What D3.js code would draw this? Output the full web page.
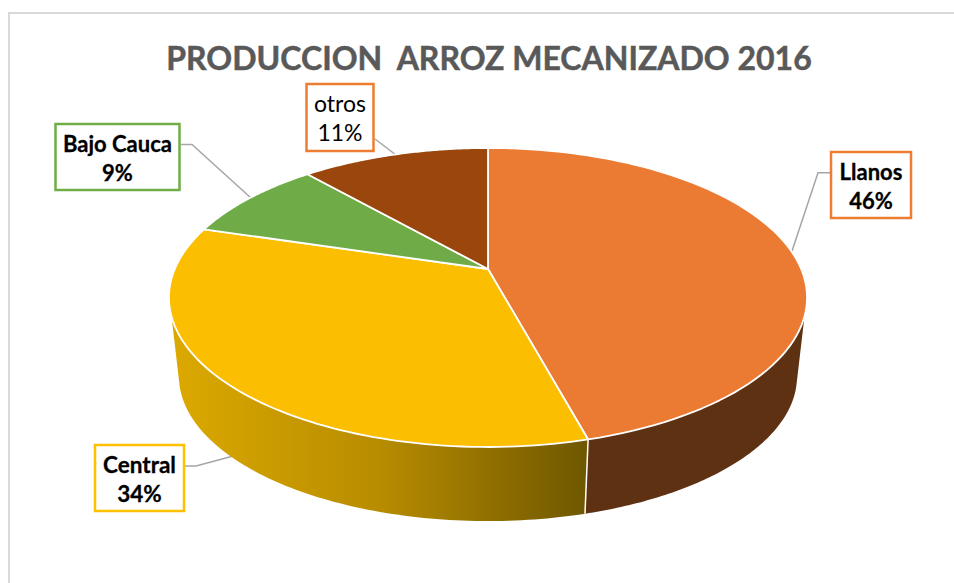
<!DOCTYPE html>
<html><head><meta charset="utf-8">
<script src="https://cdn.jsdelivr.net/npm/d3@7"></script>
<style>html,body{margin:0;padding:0;background:#fff}svg{display:block}</style>
</head><body><div id="chart"></div>
<script>
const categories = ["Llanos", "Central", "Bajo Cauca", "otros"];
const values = [45.8, 33.9, 8.85, 11.45];
const percentLabels = ["46%", "34%", "9%", "11%"];
const titleText = "PRODUCCION  ARROZ MECANIZADO 2016";
const sliceColors = ["#EB7B32", "#FBBE00", "#6FAC47", "#9A460D"];

const W = 954, H = 583;
const svg = d3.select("#chart").append("svg").attr("width", W).attr("height", H);
const defs = svg.append("defs");

// perspective projection of a tilted disc
const k = -0.1906;
const topRim = {cx: 488, cy: 269, A: 313.2, B: 144.07};
const botRim = {cx: 488, cy: 348.6, A: 303.4, B: 139.6};
const proj = (d, t) => {
  const u = Math.sin(t), v = -Math.cos(t), den = 1 + k * v;
  return [d.cx + d.A * u / den, d.cy + d.B * v / den];
};
const arcPts = (d, a, b, n = 90) => d3.range(n + 1).map(i => proj(d, a + (b - a) * i / n));
const line = d3.line();

const pie = d3.pie().sort(null).value(v => v);
const arcs = pie(values);

// frame
svg.append("rect").attr("x", 9).attr("y", 13).attr("width", W + 20).attr("height", H + 20)
  .attr("fill", "#fff").attr("stroke", "#D9D9D9").attr("stroke-width", 2);

// title
svg.append("text").attr("x", 489).attr("y", 70).attr("text-anchor", "middle")
  .attr("xml:space", "preserve").style("white-space", "pre")
  .attr("font-family", "Lato").attr("font-weight", 700).attr("font-size", 32)
  .attr("fill", "#595959").attr("stroke", "#595959").attr("stroke-width", 0.5).text(titleText);

// leader lines
const leaders = [
  [[830,172.7],[818,172.7],[792,251]],
  [[185,466],[196,466],[237,455]],
  [[181,144.5],[192,144.5],[251,198]],
  [[375,139],[396,155]]
];
svg.append("g").selectAll("path").data(leaders).join("path")
  .attr("d", d => line(d)).attr("fill", "none").attr("stroke", "#A6A6A6").attr("stroke-width", 1.5);

// walls
const tRightTop = 108 * Math.PI / 180, tRightBot = 105 * Math.PI / 180;
const gY = defs.append("linearGradient").attr("id", "gc").attr("gradientUnits", "userSpaceOnUse")
  .attr("x1", 172).attr("x2", 588).attr("y1", 0).attr("y2", 0);
gY.append("stop").attr("offset", 0).attr("stop-color", "#DCA900");
gY.append("stop").attr("offset", 0.5).attr("stop-color", "#B78C00");
gY.append("stop").attr("offset", 1).attr("stop-color", "#6E5700");

const split = arcs[0].endAngle;
const wallR = [...arcPts(topRim, split, tRightTop), ...arcPts(botRim, tRightBot, split)];
const wallC = [...arcPts(topRim, split, 2*Math.PI - tRightTop), ...arcPts(botRim, 2*Math.PI - tRightBot, split)];
svg.append("path").attr("d", line(wallR) + "Z").attr("fill", "#5F3113");
svg.append("path").attr("d", line(wallC) + "Z").attr("fill", "url(#gc)");
svg.append("path").attr("d", line([proj(topRim, split), proj(botRim, split)]))
  .attr("stroke", "#fff").attr("stroke-width", 1.5).attr("fill", "none");

// top face
const apex = [topRim.cx, topRim.cy];
svg.append("g").selectAll("path").data(arcs).join("path")
  .attr("d", d => line([apex, ...arcPts(topRim, d.startAngle, d.endAngle)]) + "Z")
  .attr("fill", (d, i) => sliceColors[i])
  .attr("stroke", "#fff").attr("stroke-width", 1.8).attr("stroke-linejoin", "round");

// labels
const boxes = [
  {x:831, y:152, w:80, h:66, c:"#ED7D31"},
  {x:95,  y:445, w:89, h:66, c:"#FFC000"},
  {x:55.5,y:124, w:124,h:66, c:"#70AD47"},
  {x:306.5,y:84, w:67, h:67, c:"#ED7D31"}
];
const weights = [700, 700, 700, 400];
const sizes = [22, 22.5, 22, 23];
const lab = svg.append("g").selectAll("g").data(categories).join("g");
lab.append("rect")
  .attr("x", (d,i) => boxes[i].x).attr("y", (d,i) => boxes[i].y)
  .attr("width", (d,i) => boxes[i].w).attr("height", (d,i) => boxes[i].h)
  .attr("fill", "#fff").attr("stroke", (d,i) => boxes[i].c).attr("stroke-width", 2.5);
lab.each(function(d, i) {
  const b = boxes[i], g = d3.select(this), cx = b.x + b.w / 2;
  [d, percentLabels[i]].forEach((s, j) => {
    g.append("text").attr("x", cx).attr("y", b.y + 28 + j * 28.5).attr("text-anchor", "middle")
      .attr("font-family", "Lato").attr("font-size", sizes[i]).attr("font-weight", weights[i])
      .attr("fill", "#000").attr("stroke", "#000").attr("stroke-width", weights[i] === 700 ? 0.3 : 0).text(s);
  });
});
</script></body></html>
